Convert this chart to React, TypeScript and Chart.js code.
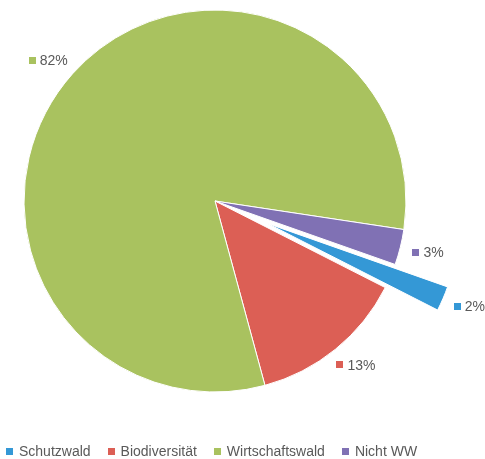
import React, { useEffect, useRef } from "react";
import { Chart, registerables } from "chart.js";

Chart.register(...registerables);

const categories = ["Schutzwald", "Biodiversität", "Wirtschaftswald", "Nicht WW"];
const values = [2.1, 13.3, 81.6, 3.0];
const colors = ["#3498d6", "#dc5f55", "#a9c25f", "#8071b4"];
const explodedIndex = 0;

const FONT = "'Liberation Sans', Arial, Helvetica, sans-serif";
const TEXT_COLOR = "#595959";

const explodePlugin = {
  id: "explode",
  afterDatasetsUpdate(chart: any) {
    const meta = chart.getDatasetMeta(0);
    const arc = meta.data[explodedIndex];
    if (!arc) return;
    const mid = (arc.startAngle + arc.endAngle) / 2;
    const d = 57;
    arc.x += Math.cos(mid) * d;
    arc.y += Math.sin(mid) * d;
  },
};

const labelPlugin = {
  id: "outsideLabels",
  afterDatasetsDraw(chart: any) {
    const ctx = chart.ctx;
    const meta = chart.getDatasetMeta(0);
    const data = chart.data.datasets[0].data as number[];
    const total = data.reduce((a, b) => a + b, 0);
    ctx.save();
    ctx.font = `14px ${FONT}`;
    ctx.textBaseline = "middle";
    ctx.textAlign = "left";
    meta.data.forEach((arc: any, i: number) => {
      const mid = (arc.startAngle + arc.endAngle) / 2;
      const c = Math.cos(mid);
      const s = Math.sin(mid);
      const r = arc.outerRadius + 13;
      const px = arc.x + c * r;
      const py = arc.y + s * r;
      const text = Math.round((data[i] / total) * 100) + "%";
      const tw = ctx.measureText(text).width;
      const sq = 7;
      const gap = 4;
      const w = sq + gap + tw;
      const h = 14;
      const cx = px + (c * w) / 2;
      const cy = py + (s * h) / 2;
      const left = cx - w / 2;
      ctx.fillStyle = colors[i];
      ctx.fillRect(Math.round(left), Math.round(cy - sq / 2), sq, sq);
      ctx.fillStyle = TEXT_COLOR;
      ctx.fillText(text, left + sq + gap, cy + 1);
    });
    ctx.restore();
  },
};

export default function App() {
  const ref = useRef<HTMLCanvasElement | null>(null);

  useEffect(() => {
    if (!ref.current) return;
    const chart = new Chart(ref.current, {
      type: "pie",
      data: {
        labels: categories,
        datasets: [
          {
            data: values,
            backgroundColor: colors,
            borderColor: "#ffffff",
            borderWidth: 1,
            hoverOffset: 0,
            offset: 0,
          },
        ],
      },
      options: {
        animation: false,
        responsive: false,
        events: [],
        rotation: 109.4,
        layout: {
          padding: { left: 23.5, top: 9.5, right: 78.5, bottom: 66.5 },
        },
        plugins: {
          legend: { display: false },
          tooltip: { enabled: false },
        },
      },
      plugins: [explodePlugin, labelPlugin],
    });
    return () => chart.destroy();
  }, []);

  return (
    <div
      style={{
        position: "fixed",
        left: 0,
        top: 0,
        width: 485,
        height: 459,
        background: "#ffffff",
      }}
    >
      <canvas ref={ref} width={485} height={459} style={{ display: "block" }} />
      <div
        style={{
          position: "absolute",
          left: 6,
          top: 444,
          display: "flex",
          alignItems: "center",
          font: `14px ${FONT}`,
          lineHeight: "14px",
          color: TEXT_COLOR,
          whiteSpace: "nowrap",
        }}
      >
        {categories.map((c, i) => (
          <div
            key={c}
            style={{
              display: "flex",
              alignItems: "center",
              marginRight: i < categories.length - 1 ? 17 : 0,
            }}
          >
            <span
              style={{
                display: "inline-block",
                width: 7,
                height: 7,
                background: colors[i],
                marginRight: 6,
              }}
            />
            <span>{c}</span>
          </div>
        ))}
      </div>
    </div>
  );
}
